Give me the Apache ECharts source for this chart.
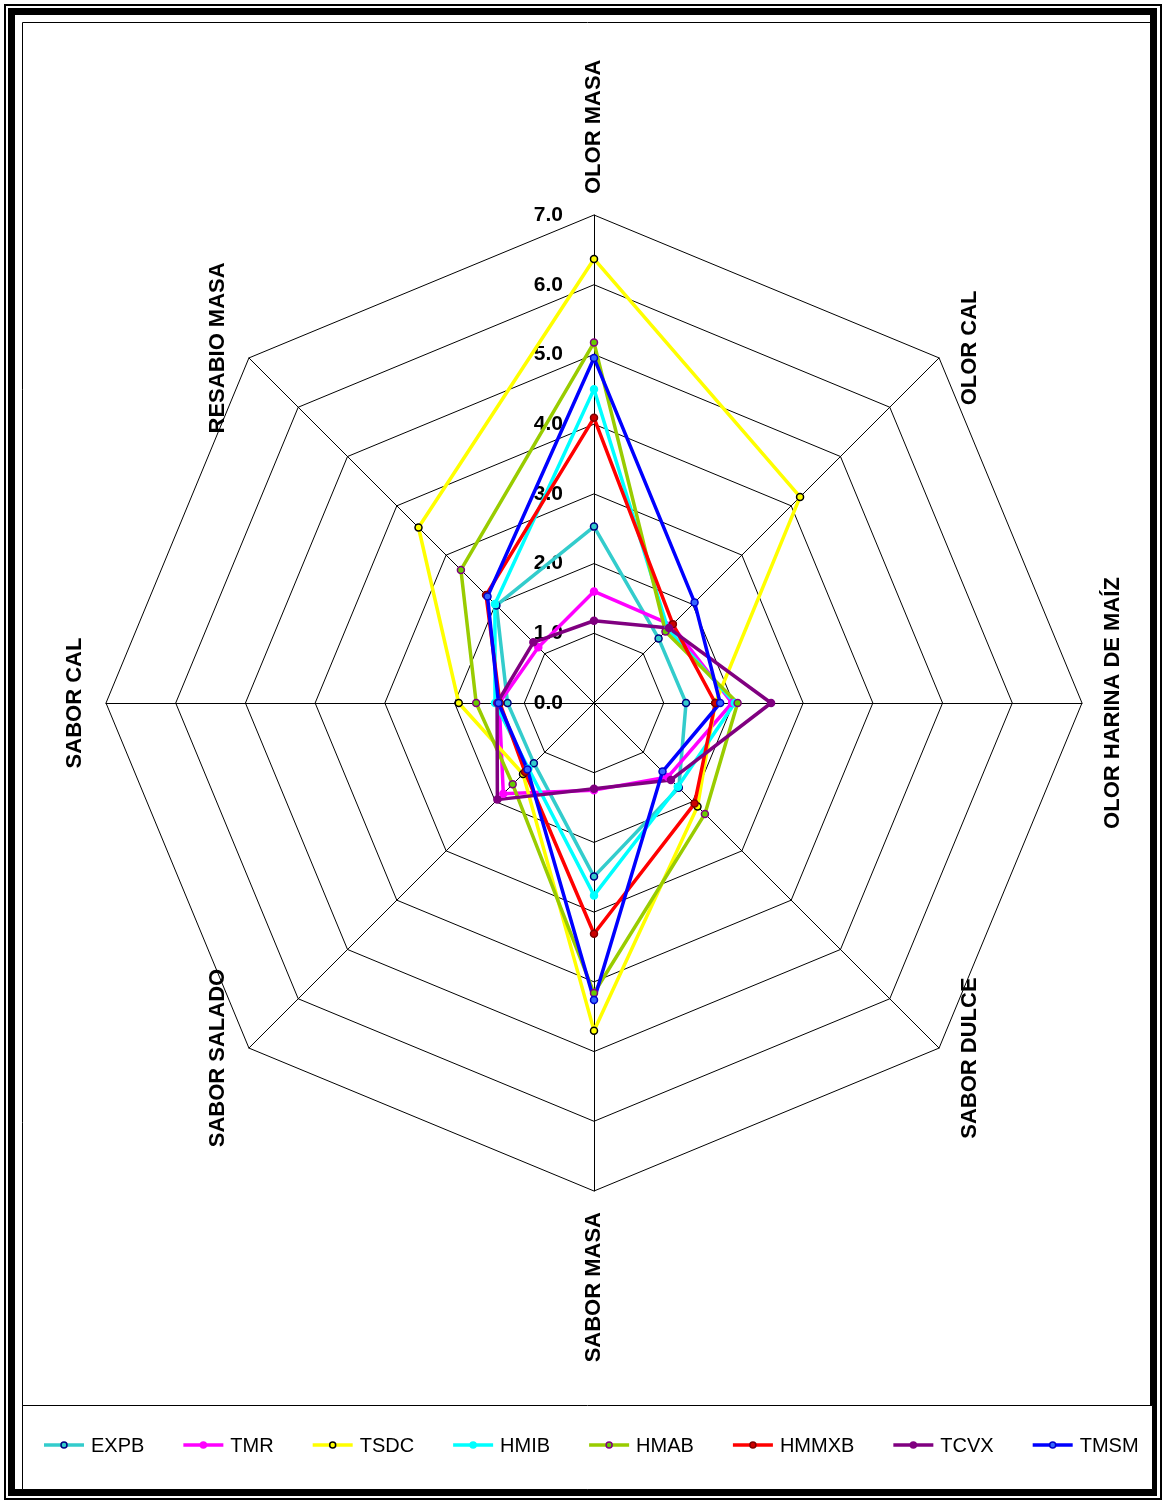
<!DOCTYPE html>
<html>
<head>
<meta charset="utf-8">
<script src="https://cdn.jsdelivr.net/npm/echarts@6/dist/echarts.min.js"></script>
<style>
  html, body { margin: 0; padding: 0; background: #ffffff; }
  #chart { width: 1165px; height: 1503px; }
</style>
</head>
<body>
<div id="chart"></div>
<script>
// Sensory attributes, listed clockwise starting from the top axis
const attributes = ['OLOR MASA', 'OLOR CAL', 'OLOR HARINA DE MAÍZ', 'SABOR DULCE',
                    'SABOR MASA', 'SABOR SALADO', 'SABOR CAL', 'RESABIO MASA'];
const scaleTicks = ['0.0', '1.0', '2.0', '3.0', '4.0', '5.0', '6.0', '7.0'];
const scaleMax = 7;

const samples = ['EXPB', 'TMR', 'TSDC', 'HMIB', 'HMAB', 'HMMXB', 'TCVX', 'TMSM'];

// Mean scores per sample, same order as `attributes`
const EXPB  = [2.53, 1.31, 1.32, 1.72, 2.49, 1.22, 1.24, 1.98];
const TMR   = [1.60, 1.58, 1.98, 1.50, 1.25, 1.84, 1.36, 1.13];
const TSDC  = [6.37, 4.18, 1.74, 2.10, 4.70, 1.44, 1.94, 3.56];
const HMIB  = [4.50, 1.50, 2.02, 1.70, 2.76, 1.33, 1.42, 2.01];
const HMAB  = [5.17, 1.45, 2.06, 2.25, 4.16, 1.65, 1.69, 2.70];
const HMMXB = [4.09, 1.60, 1.74, 2.04, 3.31, 1.40, 1.35, 2.19];
const TCVX  = [1.18, 1.52, 2.54, 1.56, 1.23, 1.96, 1.39, 1.23];
const TMSM  = [4.95, 2.04, 1.81, 1.39, 4.26, 1.35, 1.37, 2.16];
const scores = [EXPB, TMR, TSDC, HMIB, HMAB, HMMXB, TCVX, TMSM];

// line colour, marker fill, marker border
const styles = {
  EXPB:  ['#33CCCC', '#33CCCC', '#000080'],
  TMR:   ['#FF00FF', '#FF00FF', '#FF00FF'],
  TSDC:  ['#FFFF00', '#FFFF00', '#000000'],
  HMIB:  ['#00FFFF', '#00FFFF', '#00FFFF'],
  HMAB:  ['#99CC00', '#66CC00', '#800080'],
  HMMXB: ['#FF0000', '#CC0000', '#800000'],
  TCVX:  ['#800080', '#800080', '#800080'],
  TMSM:  ['#0000FF', '#3366FF', '#0000CC']
};

const FONT = '"Liberation Sans", Arial, sans-serif';
const W = 1165, H = 1503;
const CX = 594, CY = 703, R = 488;

// ECharts places radar indicators counter-clockwise; reorder the clockwise list
const ccwOrder = attributes.map((_, i) => (attributes.length - i) % attributes.length);

const indicator = ccwOrder.map((k, i) => {
  const ind = { name: attributes[k], min: 0, max: scaleMax };
  if (i === 0) ind.axisLabel = { show: true };
  return ind;
});

const seriesData = samples.map((name, s) => {
  const [line, fill, border] = styles[name];
  return {
    name: name,
    value: ccwOrder.map(k => scores[s][k]),
    symbol: 'circle',
    symbolSize: 7,
    lineStyle: { color: line, width: 3.5 },
    itemStyle: { color: fill, borderColor: border, borderWidth: 1.5 }
  };
});

// Rotated attribute names around the outer ring
const measureCtx = document.createElement('canvas').getContext('2d');
function textWidth(t, font) { measureCtx.font = font; return measureCtx.measureText(t).width; }

const nameFont = 'bold 22px ' + FONT;
const nameLabels = attributes.map((label, k) => {
  const ang = (90 - k * 45) * Math.PI / 180;
  const c = Math.cos(ang), s = Math.sin(ang);
  const vx = CX + R * c, vy = CY - R * s;
  let x = vx, y = vy;
  const half = textWidth(label, nameFont) / 2;
  if (Math.abs(c) < 1e-6) {
    y = vy - Math.sign(s) * (half + 21);
  } else {
    x = vx + Math.sign(c) * 31;
    y = vy - (Math.abs(s) > 1e-6 ? Math.sign(s) * 10 : 0);
  }
  return {
    type: 'text', x: x, y: y, rotation: Math.PI / 2, z: 10,
    style: { text: label, font: nameFont, fill: '#000',
             align: 'center', verticalAlign: 'middle',
             textAlign: 'center', textVerticalAlign: 'middle' }
  };
});

// Legend row drawn as line + marker + text
const legendFont = '20px ' + FONT;
const legendItems = [];
let lx = 44;
const ly = 1445;
samples.forEach(name => {
  const [line, fill, border] = styles[name];
  legendItems.push({ type: 'line', z: 10, shape: { x1: lx, y1: ly, x2: lx + 40, y2: ly },
                     style: { stroke: line, lineWidth: 3.5 } });
  legendItems.push({ type: 'circle', z: 11, shape: { cx: lx + 20, cy: ly, r: 3 },
                     style: { fill: fill, stroke: border, lineWidth: 1.5 } });
  legendItems.push({ type: 'text', z: 10, x: lx + 47, y: ly + 1,
                     style: { text: name, font: legendFont, fill: '#000',
                              align: 'left', verticalAlign: 'middle',
                              textAlign: 'left', textVerticalAlign: 'middle' } });
  lx += 47 + textWidth(name, legendFont) + 39;
});

// Page frame, plot frame and legend box
const frames = [
  { type: 'rect', z: 1, shape: { x: 5, y: 5, width: 1156, height: 1494 },
    style: { fill: 'none', stroke: '#000', lineWidth: 2 } },
  { type: 'rect', z: 1, shape: { x: 11.5, y: 11.5, width: 1142, height: 1481 },
    style: { fill: 'none', stroke: '#000', lineWidth: 7 } },
  { type: 'rect', z: 1, shape: { x: 22.5, y: 22.5, width: 1130, height: 1467 },
    style: { fill: 'none', stroke: '#000', lineWidth: 1 } },
  { type: 'rect', z: 1, shape: { x: 22.5, y: 1405.5, width: 1130, height: 84 },
    style: { fill: '#fff', stroke: '#000', lineWidth: 1 } }
];

const chart = echarts.init(document.getElementById('chart'), null, { renderer: 'canvas', width: W, height: H });

chart.setOption({
  backgroundColor: '#ffffff',
  animation: false,
  radar: {
    center: [CX, CY],
    radius: R,
    startAngle: 90,
    splitNumber: scaleMax,
    shape: 'polygon',
    indicator: indicator,
    axisName: { show: false },
    axisLine: { show: true, lineStyle: { color: '#000', width: 1 } },
    splitLine: { show: true, lineStyle: { color: '#000', width: 1 } },
    splitArea: { show: false },
    axisTick: { show: false },
    axisLabel: {
      show: false,
      margin: 31,
      color: '#000',
      fontFamily: FONT,
      fontWeight: 'bold',
      fontSize: 21,
      formatter: v => scaleTicks[Math.round(v)]
    }
  },
  series: [{
    type: 'radar',
    data: seriesData
  }],
  graphic: { elements: frames.concat(nameLabels, legendItems) }
});
</script>
</body>
</html>
